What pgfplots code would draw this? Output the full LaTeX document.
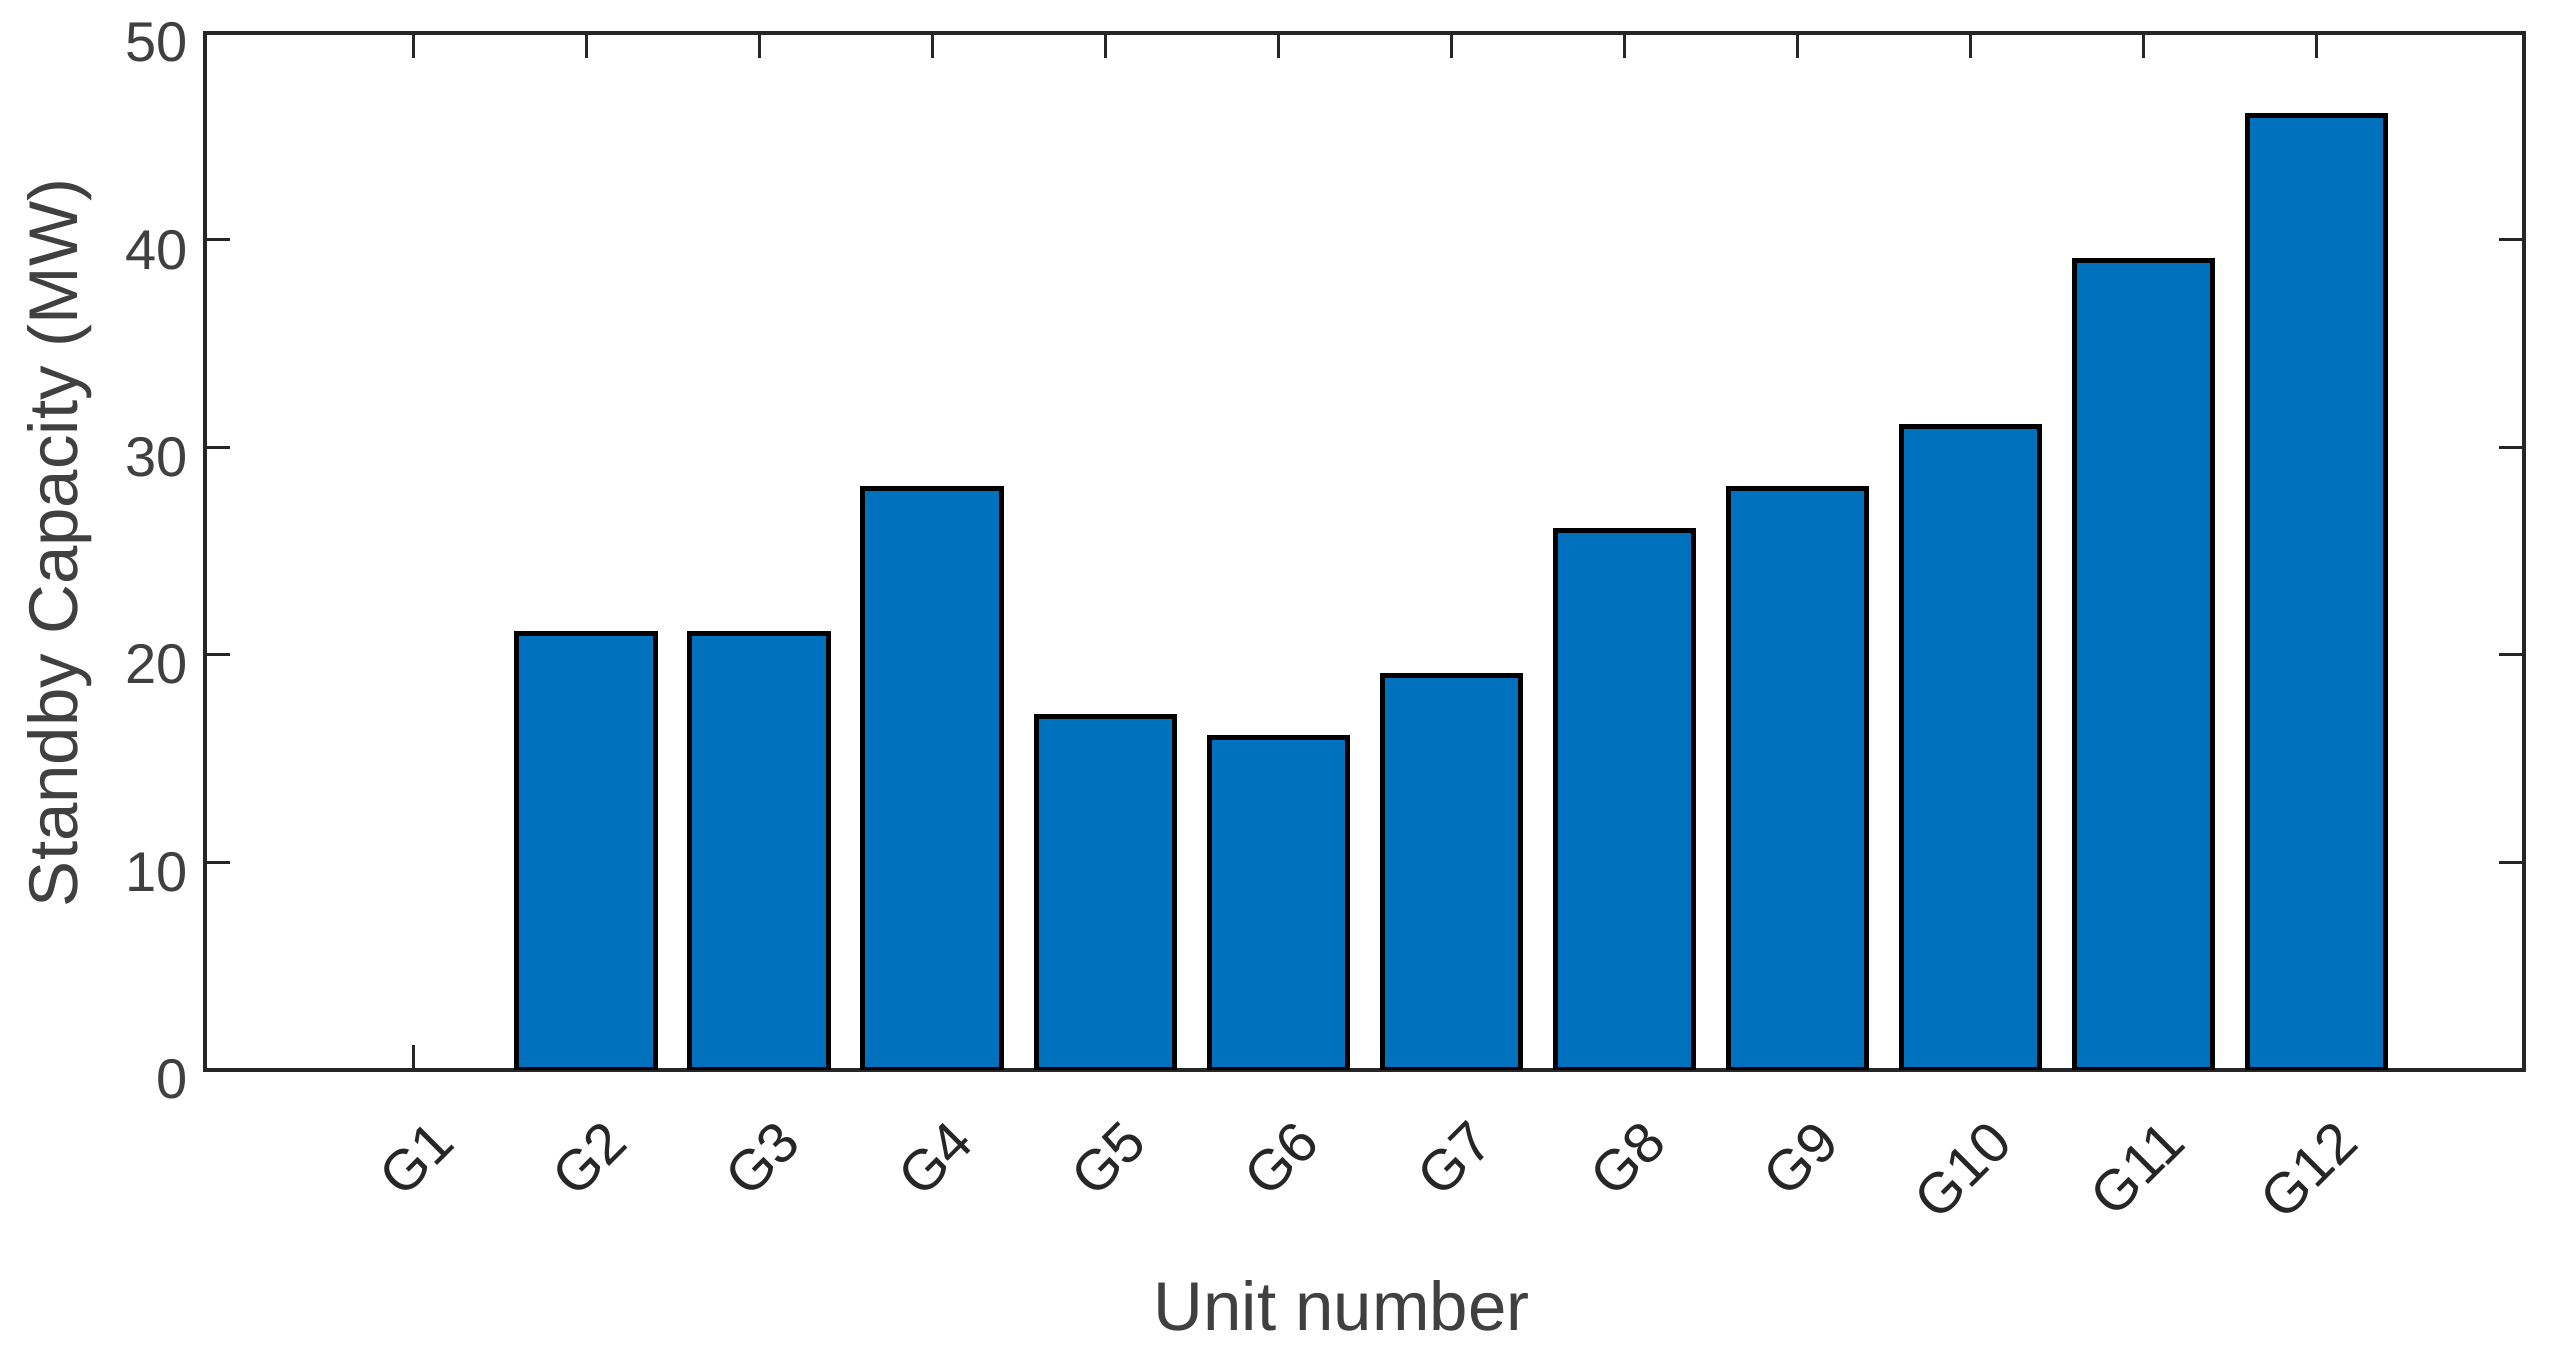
\documentclass[border=0pt]{standalone}
\usepackage{fontspec}
\setmainfont{Liberation Sans}
\usepackage{pgfplots}
\pgfplotsset{compat=1.18}

\definecolor{barblue}{RGB}{0,114,189}
\definecolor{axisgray}{gray}{0.15}
\definecolor{labelgray}{gray}{0.25}

\begin{document}
\begin{tikzpicture}
\begin{axis}[
  scale only axis,
  width=463.7pt,
  height=207.4pt,
  ybar,
  bar width=0.8,
  xmin=-0.2, xmax=13.2,
  ymin=0, ymax=50,
  xtick={1,...,12},
  xticklabels={G1,G2,G3,G4,G5,G6,G7,G8,G9,G10,G11,G12},
  ytick={0,10,...,50},
  tick align=inside,
  tick pos=both,
  major tick length=5pt,
  axis line style={line width=0.8pt, draw=axisgray},
  every tick/.style={line width=0.6pt, draw=axisgray},
  /pgf/number format/assume math mode=true,
  yticklabel style={font=\fontsize{11.2}{13}\selectfont, text=labelgray,
    inner sep=0pt, anchor=east, xshift=-3.3pt, yshift=-2pt},
  xticklabel style={font=\fontsize{11.4}{13}\selectfont, text=axisgray,
    inner sep=0pt, xshift=3.2pt, yshift=-9.4pt, rotate=45, anchor=north east},
  xlabel={Unit number},
  ylabel={Standby Capacity (MW)},
  label style={font=\fontsize{13.8}{16}\selectfont, text=labelgray},
  xlabel style={at={(axis description cs:0.49,0)}, anchor=base, yshift=-52.1pt},
  ylabel style={at={(axis description cs:-0.0551,0.508)}, anchor=base, rotate=0},
]
% G1 has 0 MW: MATLAB draws no visible bar for it
\addplot[fill=barblue, draw=black, line width=1pt] coordinates {
  (2,21) (3,21) (4,28) (5,17) (6,16)
  (7,19) (8,26) (9,28) (10,31) (11,39) (12,46)
};
\end{axis}
\pgfresetboundingbox
\path (current axis.south west) +(-41.1pt,-56.7pt)
      (current axis.north east) +(5.2pt,6.5pt);
\end{tikzpicture}
\end{document}
